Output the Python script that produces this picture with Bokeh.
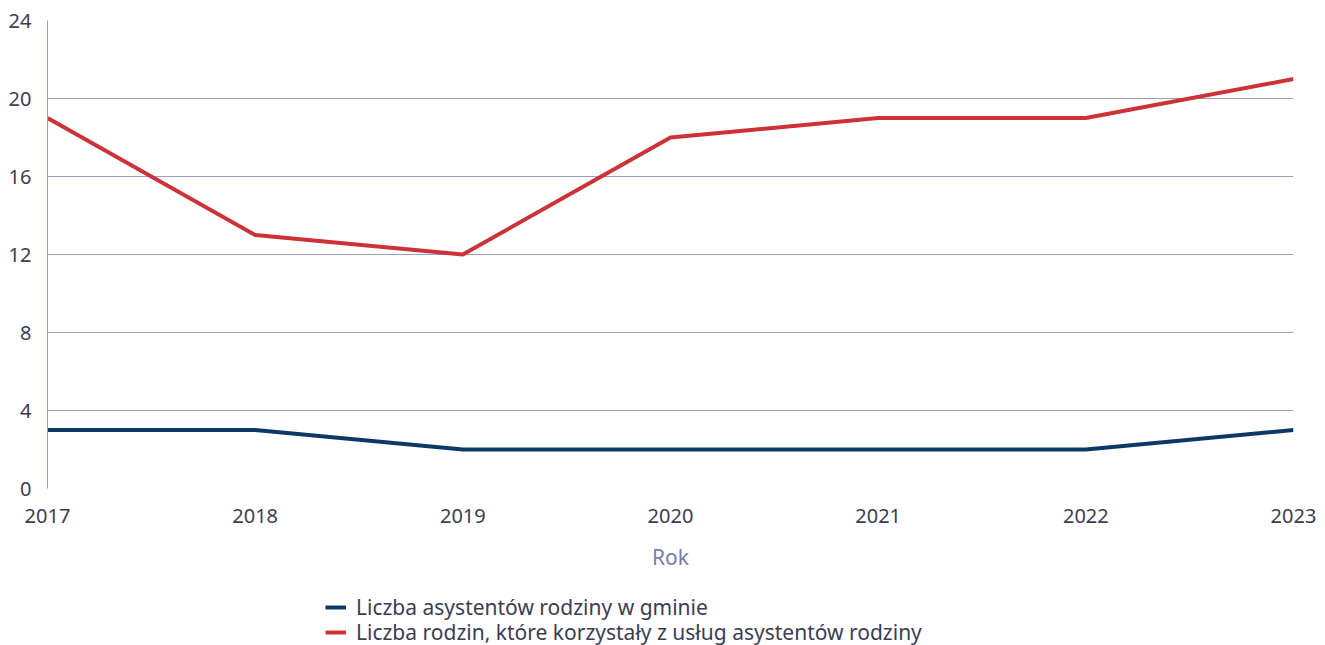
from bokeh.plotting import figure
from bokeh.models import Legend, LegendItem, FixedTicker, Range1d
from bokeh.layouts import column
from bokeh.embed import file_html
from bokeh.resources import INLINE

years = [2017, 2018, 2019, 2020, 2021, 2022, 2023]
asystenci = [3, 3, 2, 2, 2, 2, 3]
rodziny = [19, 13, 12, 18, 19, 19, 21]
y_ticks = [0, 4, 8, 12, 16, 20, 24]
series_names = ["Liczba asystentów rodziny w gminie",
                "Liczba rodzin, które korzystały z usług asystentów rodziny"]
series_colors = ["#0c3868", "#cd3236"]

FONT = "Noto Sans"
GRID = "#9c9cc4"
TXT = "#3c3d52"

p = figure(width=1325, height=580, output_backend="svg", toolbar_location=None,
           x_range=Range1d(2017, 2023), y_range=Range1d(0, 24))
p.min_border_left = 47
p.min_border_right = 32
p.min_border_top = 20
p.min_border_bottom = 92
p.outline_line_color = None

p.line(years, asystenci, line_color=series_colors[0], line_width=4)
p.line(years, rodziny, line_color=series_colors[1], line_width=4)

p.xaxis.ticker = FixedTicker(ticks=years)
p.yaxis.ticker = FixedTicker(ticks=y_ticks)
for ax in (p.xaxis[0], p.yaxis[0]):
    ax.major_tick_line_color = None
    ax.minor_tick_line_color = None
    ax.major_tick_out = 0
    ax.major_tick_in = 0
    ax.minor_tick_out = 0
    ax.minor_tick_in = 0
    ax.major_label_text_font = FONT
    ax.major_label_text_font_size = "20px"
    ax.major_label_text_color = TXT
p.xaxis.axis_line_color = None
p.yaxis.axis_line_color = GRID
p.yaxis.axis_line_width = 1
p.yaxis.major_label_standoff = 16
p.xaxis.major_label_standoff = 20
p.xaxis.axis_label = "Rok"
p.xaxis.axis_label_text_font = FONT
p.xaxis.axis_label_text_font_size = "21px"
p.xaxis.axis_label_text_font_style = "normal"
p.xaxis.axis_label_text_color = "#7b7ca3"
p.xaxis.axis_label_standoff = 17

p.xgrid.grid_line_color = None
p.ygrid.grid_line_color = GRID
p.ygrid.grid_line_width = 1

# legend panel below the chart
pl = figure(width=1325, height=65, output_backend="svg", toolbar_location=None,
            x_range=Range1d(0, 1), y_range=Range1d(0, 1),
            x_axis_location=None, y_axis_location=None)
pl.min_border = 0
pl.outline_line_color = None
pl.xgrid.visible = False
pl.ygrid.visible = False
# off-screen proxies so the legend can draw its line swatches
lr1 = pl.line([-10, -9], [-10, -10], line_color=series_colors[0], line_width=4)
lr2 = pl.line([-10, -9], [-10, -10], line_color=series_colors[1], line_width=4)

legend_style = dict(orientation="vertical",
                    label_text_font=FONT, label_text_font_size="21px",
                    label_text_color=TXT, glyph_width=21, glyph_height=14,
                    label_standoff=10, spacing=0, padding=0, margin=0,
                    border_line_color=None, background_fill_alpha=0,
                    label_height=20)
leg1 = Legend(items=[LegendItem(label=series_names[0], renderers=[lr1])],
              location=(278, 24), **legend_style)
leg2 = Legend(items=[LegendItem(label=series_names[1], renderers=[lr2])],
              location=(278, -1), **legend_style)
pl.add_layout(leg1, "center")
pl.add_layout(leg2, "center")

layout = column(p, pl, spacing=0)
open("out.html", "w").write(file_html(layout, INLINE))
